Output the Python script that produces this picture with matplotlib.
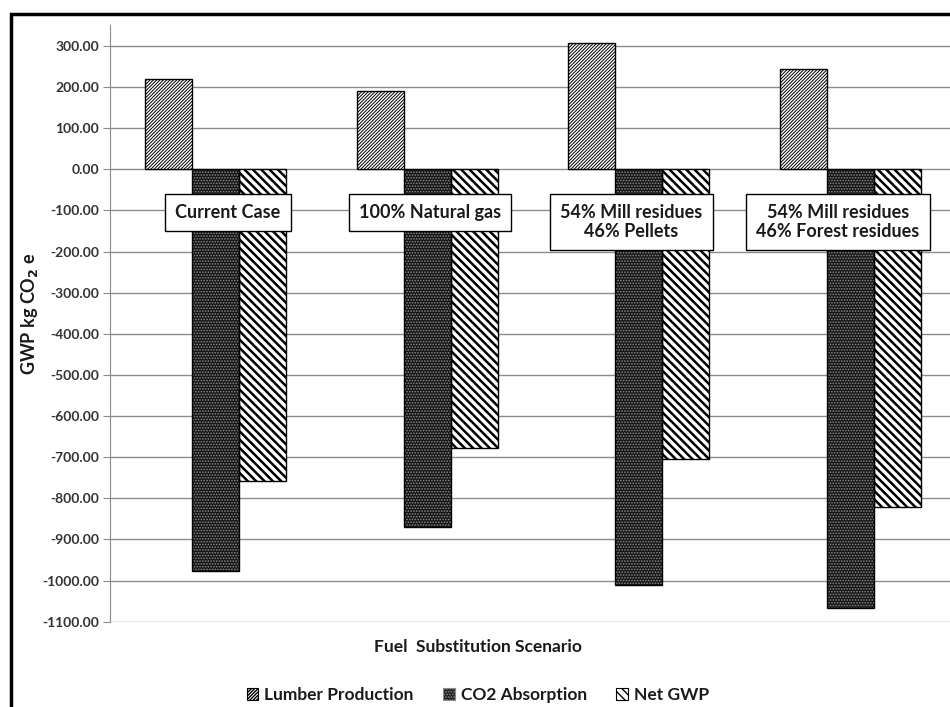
import matplotlib
import matplotlib.pyplot as plt
import numpy as np
from matplotlib.patches import Patch, Rectangle

matplotlib.use('agg')

# Data
scenarios = ['Current Case', '100% Natural gas',
             '54% Mill residues\n46% Pellets', '54% Mill residues\n46% Forest residues']
lumber = [219, 191, 306, 243]
co2 = [-976, -870, -1010, -1067]
net = [-757, -677, -704, -820]
series_names = ['Lumber Production', 'CO2 Absorption', 'Net GWP']

plt.rcParams['font.family'] = ['Lato', 'DejaVu Sans']
plt.rcParams['font.weight'] = 'bold'

fig = plt.figure(figsize=(9.5, 7.07), dpi=100)
# axes run past the right edge, like the cropped reference
ax = fig.add_axes([0.1158, 0.1207, 0.8905, 0.8435])

x = np.arange(len(scenarios))
w = 0.222

styles = [
    dict(face='white', hatch='/' * 10, hcol='black', hlw=0.7),
    dict(face='#151515', hatch='.' * 6, hcol='#8a8a8a', hlw=0.8),
    dict(face='white', hatch='\\' * 4, hcol='black', hlw=1.8),
]

for i, (vals, st) in enumerate(zip([lumber, co2, net], styles)):
    pos = x + (i - 1) * w
    with plt.rc_context({'hatch.linewidth': st['hlw']}):
        ax.bar(pos, vals, w, color=st['face'], edgecolor=st['hcol'],
               hatch=st['hatch'], linewidth=0, zorder=3)
    ax.bar(pos, vals, w, fill=False, edgecolor='black', linewidth=1, zorder=4)

# scenario label boxes
label_x = [0.058, 1.015, 1.966, 2.942]
for lx, name in zip(label_x, scenarios):
    ax.text(lx, -85, name, ha='center', va='top', fontsize=13, fontweight='bold',
            color='#1a1a1a', zorder=6, linespacing=1.1,
            bbox=dict(boxstyle='square,pad=0.55', facecolor='white',
                      edgecolor='black', linewidth=1))

ax.set_xlim(-0.5, 3.5)
ax.set_ylim(-1100, 350)
ax.set_yticks(np.arange(-1100, 301, 100))
ax.set_yticklabels([f'{v:.2f}' for v in np.arange(-1100, 301, 100)],
                   fontsize=10, fontweight='bold', color='#333333')
ax.set_xticks([])
ax.grid(axis='y', color='#8c8c8c', linewidth=1, zorder=0)
for s in ['top', 'right', 'bottom']:
    ax.spines[s].set_visible(False)
ax.spines['left'].set_color('#8c8c8c')
ax.tick_params(axis='y', length=5, color='#8c8c8c', pad=3)

fig.text(30 / 950, 1 - 314 / 707, 'GWP kg CO$_\\mathbf{2}$ e', rotation=90,
         ha='center', va='center', fontsize=13, fontweight='bold', color='#1a1a1a')

fig.text(478 / 950, 1 - 647 / 707, 'Fuel  Substitution Scenario', ha='center',
         va='center', fontsize=12.5, fontweight='bold', color='#1a1a1a')

handles = []
for st, name in zip(styles, series_names):
    handles.append(Patch(facecolor=st['face'], edgecolor=st['hcol'],
                         hatch=st['hatch'], linewidth=0.8, label=name))
fig.legend(handles=handles, loc='center', bbox_to_anchor=(478 / 950, 1 - 695 / 707),
           ncol=3, frameon=False, fontsize=12.5, handlelength=0.65, handleheight=0.65,
           handletextpad=0.35, columnspacing=1.7, labelcolor='#1a1a1a')

# outer chart frame (cropped at right and bottom)
fig.patches.append(Rectangle((11 / 950, -0.1), 1.2, 0.1 + 1 - 14 / 707,
                             transform=fig.transFigure, fill=False,
                             edgecolor='black', linewidth=2.5))

fig.savefig('out.png', dpi=100)
